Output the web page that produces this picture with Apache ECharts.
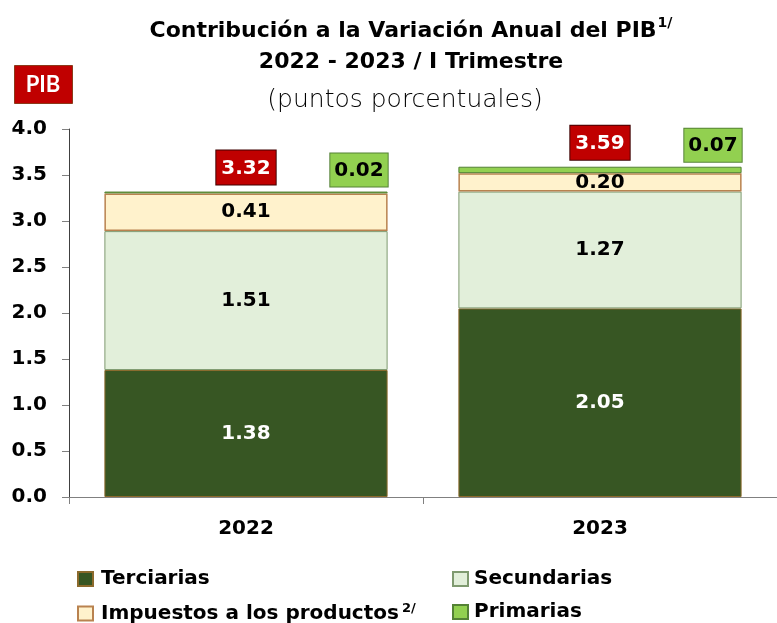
<!DOCTYPE html>
<html>
<head>
<meta charset="utf-8">
<script src="https://cdn.jsdelivr.net/npm/echarts@6/dist/echarts.min.js"></script>
<style>
  html, body { margin: 0; padding: 0; background: #fff; }
  #chart { width: 777px; height: 623px; }
</style>
</head>
<body>
<div id="chart"></div>
<script>
// datos
const years = ['2022', '2023']
const terciarias = [1.38, 2.05]
const secundarias = [1.51, 1.27]
const impuestos = [0.41, 0.20]
const primarias = [0.02, 0.07]
const totales = [3.32, 3.59]
const yTicks = [0, 0.5, 1, 1.5, 2, 2.5, 3, 3.5, 4]

const FONT = '"DejaVu Sans", sans-serif'
const TFONT = 'Lato, "Liberation Sans", sans-serif'

const chart = echarts.init(document.getElementById('chart'))

function segLabel(color) {
  return {
    show: true,
    position: 'inside',
    color: color,
    fontFamily: FONT,
    fontWeight: 'bold',
    fontSize: 20,
    formatter: p => p.value.toFixed(2)
  }
}

var option = {
  animation: false,
  textStyle: { fontFamily: FONT },
  title: [
    {
      text: '{t|Contribución a la Variación Anual del PIB}{s|1/}\n{t|2022 - 2023 / I Trimestre}',
      left: 406, top: 11, textAlign: 'center',
      textStyle: {
        rich: {
          t: { fontFamily: FONT, fontWeight: 'bold', fontSize: 22, color: '#000', lineHeight: 31 },
          s: { fontFamily: FONT, fontSize: 14, color: '#000', verticalAlign: 'top', lineHeight: 31, padding: [0, 0, 12, 1] }
        }
      }
    },
    {
      text: '(puntos porcentuales)',
      left: 400, top: 83, textAlign: 'center',
      textStyle: { fontFamily: FONT, fontWeight: 300, fontSize: 25, color: '#000' }
    }
  ],
  graphic: [
    {
      type: 'rect', left: 14, top: 65,
      shape: { width: 58, height: 38 },
      style: { fill: '#C00000', stroke: '#8B3A1A', lineWidth: 1 }
    },
    {
      type: 'text', x: 43, y: 85,
      style: { text: 'PIB', fill: '#fff', font: 'bold 22px ' + TFONT, align: 'center', verticalAlign: 'middle' }
    }
  ],
  legend: [
    {
      orient: 'vertical', left: 77, top: 569, height: 100, padding: 0, itemGap: 13,
      itemWidth: 15, itemHeight: 14, icon: 'rect',
      data: ['Terciarias', 'Impuestos'],
      formatter: n => n === 'Impuestos' ? '{l|Impuestos a los productos}{s|2/}' : '{l|' + n + '}',
      textStyle: {
        padding: [0, 0, 0, 3],
        rich: {
          l: { fontFamily: FONT, fontWeight: 'bold', fontSize: 20, color: '#000' },
          s: { fontFamily: FONT, fontWeight: 'bold', fontSize: 13, color: '#000', verticalAlign: 'top', padding: [0, 0, 10, 3] }
        }
      }
    },
    {
      orient: 'vertical', left: 452, top: 569, height: 100, padding: 0, itemGap: 13,
      itemWidth: 15, itemHeight: 14, icon: 'rect',
      data: ['Secundarias', 'Primarias'],
      textStyle: { padding: [0, 0, 0, 1], fontFamily: FONT, fontWeight: 'bold', fontSize: 20, color: '#000' }
    }
  ],
  grid: { left: 69, right: -12, top: 129, bottom: 126 },
  xAxis: {
    type: 'category',
    data: years,
    axisLine: { lineStyle: { color: '#808080', width: 1 } },
    axisTick: { show: true, length: 7, lineStyle: { color: '#808080' } },
    axisLabel: { margin: 22, color: '#000', fontFamily: FONT, fontWeight: 'bold', fontSize: 20 }
  },
  yAxis: {
    type: 'value',
    min: yTicks[0], max: yTicks[yTicks.length - 1], interval: 0.5,
    splitLine: { show: false },
    axisLine: { show: true, lineStyle: { color: '#404040' } },
    axisTick: { show: true, length: 7, lineStyle: { color: '#808080' } },
    axisLabel: { margin: 22, color: '#000', fontFamily: FONT, fontWeight: 'bold', fontSize: 20, formatter: v => v.toFixed(1) }
  },
  series: [
    {
      name: 'Terciarias', type: 'bar', stack: 'pib', barWidth: '80%',
      data: terciarias,
      itemStyle: { color: '#375623', borderColor: '#8C6A2C', borderWidth: 1 },
      label: segLabel('#fff')
    },
    {
      name: 'Secundarias', type: 'bar', stack: 'pib',
      data: secundarias,
      itemStyle: { color: '#E2EFDA', borderColor: '#7F9A70', borderWidth: 1 },
      label: segLabel('#000')
    },
    {
      name: 'Impuestos', type: 'bar', stack: 'pib',
      data: impuestos,
      itemStyle: { color: '#FFF2CC', borderColor: '#B9824F', borderWidth: 1.5 },
      label: segLabel('#000')
    },
    {
      name: 'Primarias', type: 'bar', stack: 'pib',
      data: primarias,
      itemStyle: { color: '#92D050', borderColor: '#548235', borderWidth: 1 },
      label: {
        show: true, position: 'top', distance: 5, offset: [113, 0],
        formatter: p => p.value.toFixed(2),
        color: '#000', fontFamily: FONT, fontWeight: 'bold', fontSize: 20,
        backgroundColor: '#92D050', borderColor: '#548235', borderWidth: 1,
        padding: [7, 4, 6, 4]
      }
    },
    {
      name: 'Total', type: 'scatter', symbolSize: 0,
      data: totales,
      silent: true,
      itemStyle: { opacity: 1 },
      label: {
        show: true, position: 'top', distance: 7, opacity: 1,
        formatter: p => p.value.toFixed(2),
        color: '#fff', fontFamily: FONT, fontWeight: 'bold', fontSize: 20,
        backgroundColor: '#C00000', borderColor: '#400000', borderWidth: 1,
        padding: [8, 5, 6, 5]
      }
    }
  ]
}

chart.setOption(option)
</script>
</body>
</html>
